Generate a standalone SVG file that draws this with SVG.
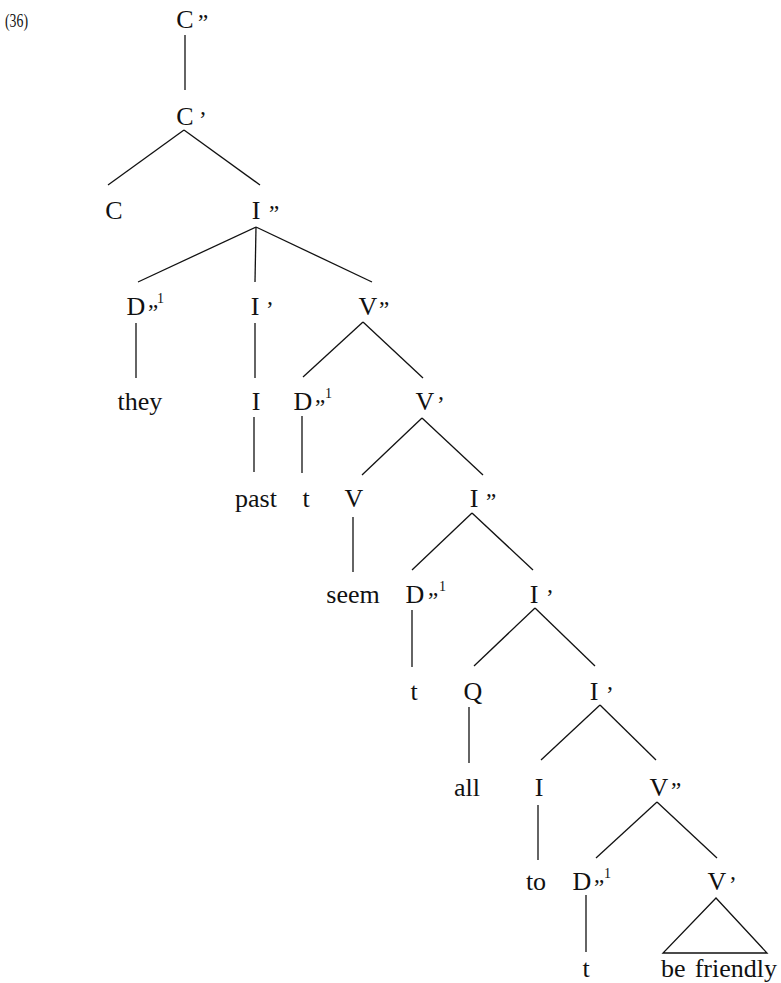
<svg xmlns="http://www.w3.org/2000/svg" width="781" height="983" viewBox="0 0 781 983">
  <style>
    text { font-family: "Liberation Serif", "Times New Roman", serif; fill: #111; }
    .n { font-size: 26px; text-anchor: middle; }
    .w { font-size: 26px; }
    .m { font-size: 23px; }
    .s { font-size: 14px; }
    .num { font-size: 18px; }
    .e line, .e polygon { stroke: #111; stroke-width: 1.3; fill: none; }
  </style>
  <rect width="781" height="983" fill="#fff"/>

  <text class="num" x="5" y="27" textLength="23" lengthAdjust="spacingAndGlyphs">(36)</text>

  <!-- connectors -->
  <g class="e" id="edges">
    <line x1="185" y1="35" x2="185" y2="90"/>
    <line x1="184" y1="130" x2="108" y2="185"/>
    <line x1="184" y1="130" x2="260" y2="185"/>
    <line x1="256" y1="227" x2="138" y2="282"/>
    <line x1="256" y1="227" x2="255" y2="282"/>
    <line x1="256" y1="227" x2="372" y2="282"/>
    <line x1="136" y1="323" x2="136" y2="378"/>
    <line x1="255" y1="323" x2="255" y2="378"/>
    <line x1="363" y1="322" x2="303" y2="377"/>
    <line x1="363" y1="322" x2="423" y2="378"/>
    <line x1="254" y1="417" x2="254" y2="472"/>
    <line x1="302" y1="416" x2="302" y2="473"/>
    <line x1="422" y1="418" x2="362" y2="475"/>
    <line x1="422" y1="418" x2="483" y2="475"/>
    <line x1="353" y1="517" x2="353" y2="572"/>
    <line x1="472" y1="513" x2="412" y2="570"/>
    <line x1="472" y1="513" x2="533" y2="570"/>
    <line x1="412" y1="610" x2="412" y2="667"/>
    <line x1="535" y1="608" x2="474" y2="666"/>
    <line x1="535" y1="608" x2="595" y2="666"/>
    <line x1="469" y1="707" x2="469" y2="763"/>
    <line x1="600" y1="705" x2="541" y2="760"/>
    <line x1="600" y1="705" x2="656" y2="760"/>
    <line x1="538" y1="805" x2="538" y2="860"/>
    <line x1="657" y1="802" x2="596" y2="858"/>
    <line x1="657" y1="802" x2="717" y2="858"/>
    <line x1="586" y1="895" x2="586" y2="952"/>
    <polygon points="716,898 663,953 767,953"/>
  </g>

  <!-- nodes -->
  <g id="cpp"><text class="n" x="185" y="28">C</text><text class="m" x="198" y="30">”</text></g>
  <g id="cp"><text class="n" x="185" y="125">C</text><text class="m" x="199" y="127">’</text></g>
  <g id="c"><text class="n" x="114" y="219">C</text></g>
  <g id="ipp1"><text class="n" x="256" y="219">I</text><text class="m" x="269" y="221">”</text></g>

  <g id="dpp1"><text class="n" x="136" y="315">D</text><text class="m" x="148" y="320">”</text><text class="s" x="157" y="303">1</text></g>
  <g id="ip1"><text class="n" x="255" y="315">I</text><text class="m" x="266" y="317">’</text></g>
  <g id="vpp1"><text class="n" x="368" y="315">V</text><text class="m" x="379" y="317">”</text></g>

  <g id="they"><text class="n" x="140" y="410">they</text></g>
  <g id="i1"><text class="n" x="256" y="410">I</text></g>
  <g id="dpp2"><text class="n" x="303" y="410">D</text><text class="m" x="315" y="415">”</text><text class="s" x="325" y="398">1</text></g>
  <g id="vp1"><text class="n" x="425" y="410">V</text><text class="m" x="437" y="412">’</text></g>

  <g id="past"><text class="n" x="256" y="507">past</text></g>
  <g id="t1"><text class="n" x="306" y="507">t</text></g>
  <g id="v"><text class="n" x="354" y="507">V</text></g>
  <g id="ipp2"><text class="n" x="474" y="507">I</text><text class="m" x="486" y="509">”</text></g>

  <g id="seem"><text class="n" x="353" y="603">seem</text></g>
  <g id="dpp3"><text class="n" x="415" y="603">D</text><text class="m" x="428" y="608">”</text><text class="s" x="439" y="591">1</text></g>
  <g id="ip2"><text class="n" x="534" y="603">I</text><text class="m" x="546" y="605">’</text></g>

  <g id="t2"><text class="n" x="414" y="700">t</text></g>
  <g id="q"><text class="n" x="473" y="700">Q</text></g>
  <g id="ip3"><text class="n" x="594" y="700">I</text><text class="m" x="606" y="702">’</text></g>

  <g id="all"><text class="n" x="467" y="796">all</text></g>
  <g id="i2"><text class="n" x="539" y="796">I</text></g>
  <g id="vpp2"><text class="n" x="659" y="796">V</text><text class="m" x="671" y="798">”</text></g>

  <g id="to"><text class="n" x="536" y="890">to</text></g>
  <g id="dpp4"><text class="n" x="582" y="890">D</text><text class="m" x="594" y="895">”</text><text class="s" x="604" y="878">1</text></g>
  <g id="vp2"><text class="n" x="717" y="890">V</text><text class="m" x="729" y="892">’</text></g>

  <g id="t3"><text class="n" x="586" y="977">t</text></g>
  <g id="befriendly"><text class="w" x="661" y="977">be</text><text class="w" x="777" y="977" text-anchor="end">friendly</text></g>
</svg>
